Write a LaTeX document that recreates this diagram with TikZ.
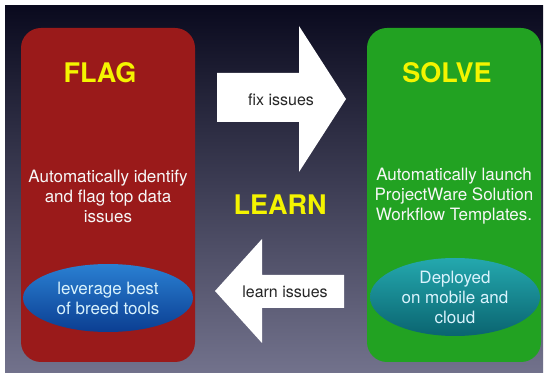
\documentclass[tikz,border=0pt]{standalone}
\usepackage{fontspec}
\setmainfont{TeX Gyre Heros}
\usepackage[x11names]{xcolor}
\usepackage{tikz}
\usetikzlibrary{calc}
\usetikzlibrary{positioning}
\usetikzlibrary{shapes.geometric}

\definecolor{flagred}{HTML}{9A1A1A}
\definecolor{solvegreen}{HTML}{22A222}
\definecolor{headyellow}{HTML}{F4F400}
\definecolor{bgtop}{HTML}{0A0A1E}
\definecolor{bgbottom}{HTML}{72728C}
\definecolor{blueup}{HTML}{2A80D2}
\definecolor{bluedown}{HTML}{0B3E92}
\definecolor{tealup}{HTML}{24A8AE}
\definecolor{tealdown}{HTML}{0A6470}

\tikzset{
  heading/.style={text=headyellow, font=\fontsize{27}{30}\selectfont\bfseries},
  body/.style={text=white!94!gray, align=center, font=\fontsize{17}{20}\selectfont},
  pane/.style={rounded corners=20pt},
  oval/.style={ellipse, align=center, inner sep=0pt, minimum width=170pt,
    text=white!85!cyan, font=\fontsize{17}{20}\selectfont},
  tag/.style={text=black!85, font=\fontsize{16}{19}\selectfont}
}

\begin{document}
\begin{tikzpicture}[x=1pt,y=-1pt]
\useasboundingbox (0,0) rectangle (544,379);
\fill[white] (0,0) rectangle (544,379);
\shade[top color=bgtop, bottom color=bgbottom] (5,6) rectangle (543,373);

\coordinate (F_1) at (21,28);
\coordinate (F_2) at (195,362);
\coordinate (S_1) at (367,28);
\coordinate (S_2) at (541,362);

\fill[flagred, pane] (F_1) rectangle (F_2);
\fill[solvegreen, pane] (S_1) rectangle (S_2);

% block arrows
\fill[white] (217,73) -- (299,73) -- (299,26) -- (346,99) -- (299,172) -- (299,122) -- (217,122) -- cycle;
\fill[white] (344,275) -- (262,275) -- (262,239) -- (215,291) -- (262,343) -- (262,308) -- (344,308) -- cycle;

\node[tag] (fixlbl) at (281,100) {fix issues};
\node[tag] (learnlbl) at (285,292) {learn issues};

\node[heading] (flag) at (100,73) {FLAG};
\node[heading] (solve) at (447,73) {SOLVE};
\node[heading] (learn) at (280,205) {LEARN};

\node[body] (flagtxt) at (108,196) {Automatically identify\\and flag top data\\issues};
\node[body] (solvetxt) at (454,196) {Automatically launch\\ProjectWare Solution\\Workflow Templates.};

\node[oval, minimum height=68pt, top color=blueup, bottom color=bluedown] (tools) at (108,298) {leverage best\\of breed tools};
\node[oval, minimum height=78pt, top color=tealup, bottom color=tealdown] (deploy) at (455,297) {Deployed\\on mobile and\\cloud};

\end{tikzpicture}
\end{document}
